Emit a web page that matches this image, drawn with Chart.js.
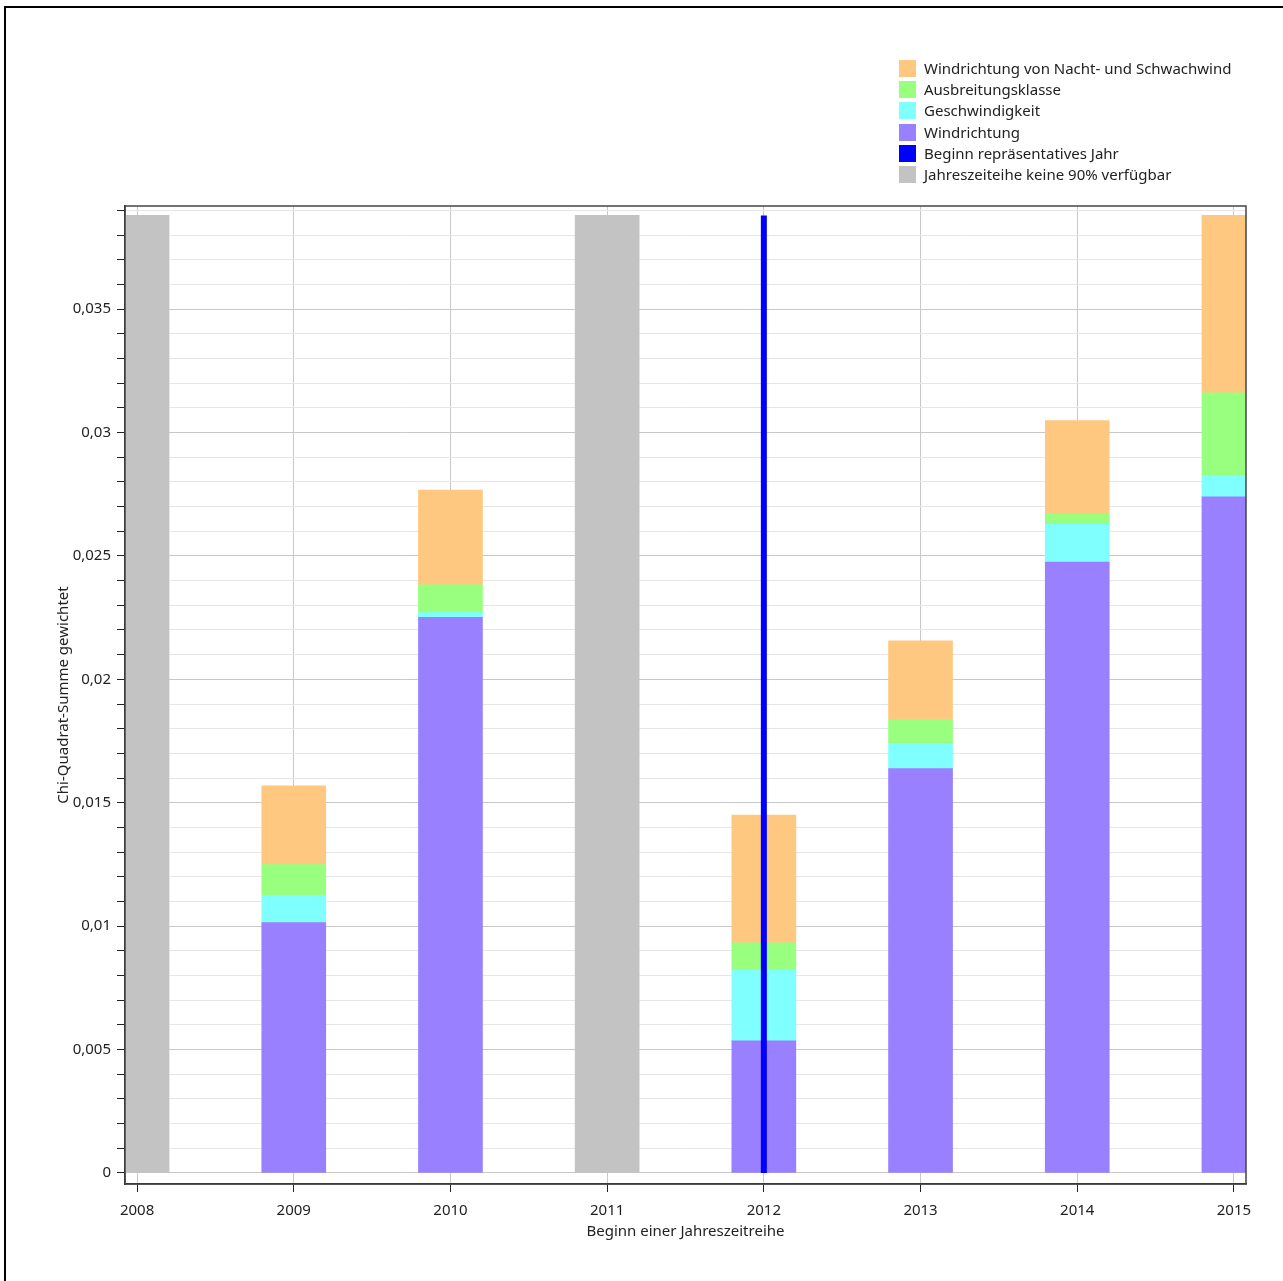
<!DOCTYPE html>
<html>
<head>
<meta charset="utf-8">
<script src="https://cdn.jsdelivr.net/npm/chart.js@4.4.0/dist/chart.umd.min.js"></script>
<style>
  body { margin: 0; background: #fff; }
  #wrap { position: relative; width: 1283px; height: 1281px; overflow: hidden; }
  #frame { position: absolute; left: 4px; top: 6px; width: 1400px; height: 1400px; border-left: 2px solid #000; border-top: 2px solid #000; }
  #legend { position: absolute; left: 899px; top: 58px; font-family: "Noto Sans", sans-serif; font-size: 15px; color: #222; }
  #legend div { height: 21.2px; line-height: 21px; white-space: nowrap; }
  #legend span { display: inline-block; width: 17px; height: 17px; vertical-align: -3px; margin-right: 8px; }
  canvas { position: absolute; left: 0; top: 0; }
</style>
</head>
<body>
<div id="wrap">
  <div id="frame"></div>
  <canvas id="chart1" width="1283" height="1281"></canvas>
  <div id="legend"></div>
</div>
<script>
// years with full data
var years = [2009, 2010, 2012, 2013, 2014, 2015];
// stacked parts, bottom to top
var windrichtung    = [0.01014, 0.02251, 0.00535, 0.01638, 0.02475, 0.02740];
var geschwindigkeit = [0.00111, 0.00019, 0.00287, 0.00103, 0.00154, 0.00086];
var ausbreitung     = [0.00124, 0.00113, 0.00110, 0.00097, 0.00041, 0.00335];
var nachtSchwach    = [0.00319, 0.00384, 0.00518, 0.00318, 0.00378, 0.00719];
// years without 90% available
var missingYears = [2008, 2011];
var missingHeight = 0.0388;
// representative year
var repYear = 2012;
var repHeight = 0.0388;

var xTicks = [2008, 2009, 2010, 2011, 2012, 2013, 2014, 2015];
var yTicks = [];
for (var i = 0; i <= 39; i++) yTicks.push(i / 1000);

var font = "'Noto Sans', sans-serif";

function pts(xs, ys) {
  return xs.map(function(x, i) { return {x: x, y: ys[i]}; });
}

var series = [
  {label: "Windrichtung", data: windrichtung, color: "#9980FF"},
  {label: "Geschwindigkeit", data: geschwindigkeit, color: "#80FFFF"},
  {label: "Ausbreitungsklasse", data: ausbreitung, color: "#99FF7F"},
  {label: "Windrichtung von Nacht- und Schwachwind", data: nachtSchwach, color: "#FFC880"}
];

var datasets = series.map(function(s) {
  return {type: 'bar', label: s.label, data: pts(years, s.data), backgroundColor: s.color, barThickness: 64};
});
datasets.push({
  type: 'bar', label: "Jahreszeiteihe keine 90% verfügbar",
  data: missingYears.map(function(x) { return {x: x, y: missingHeight}; }),
  backgroundColor: "#C3C3C3", barThickness: 64
});
datasets.push({
  type: 'line', label: "Beginn repräsentatives Jahr",
  data: [{x: repYear, y: 0}, {x: repYear, y: repHeight}],
  borderColor: "#0000FF", borderWidth: 6, pointRadius: 0, stack: 'rep', order: -1
});

// legend, top to bottom
var legendItems = [
  ["Windrichtung von Nacht- und Schwachwind", "#FFC880"],
  ["Ausbreitungsklasse", "#99FF7F"],
  ["Geschwindigkeit", "#80FFFF"],
  ["Windrichtung", "#9980FF"],
  ["Beginn repräsentatives Jahr", "#0000FF"],
  ["Jahreszeiteihe keine 90% verfügbar", "#C3C3C3"]
];
document.getElementById("legend").innerHTML = legendItems.map(function(it) {
  return '<div><span style="background:' + it[1] + '"></span>' + it[0] + '</div>';
}).join('');

// frame around plot area
var frame = {
  id: 'frame',
  afterDraw: function(chart) {
    var a = chart.chartArea, c = chart.ctx;
    c.save();
    c.strokeStyle = "#444";
    c.lineWidth = 1.5;
    c.strokeRect(a.left, a.top, a.right - a.left, a.bottom - a.top);
    c.restore();
  }
};

function isMajor(v) {
  return Math.abs(Math.round(v * 200) - v * 200) < 1e-6;
}

new Chart(document.getElementById("chart1"), {
  data: {datasets: datasets},
  plugins: [frame],
  options: {
    responsive: false,
    animation: false,
    layout: {padding: {left: 55, top: 206, right: 37, bottom: 37}},
    plugins: {legend: {display: false}, tooltip: {enabled: false}},
    scales: {
      x: {
        type: 'linear', stacked: true, offset: false,
        min: 2007.923, max: 2015.077,
        afterBuildTicks: function(s) { s.ticks = xTicks.map(function(v) { return {value: v}; }); },
        afterFit: function(s) { s.height = 60; },
        ticks: {callback: function(v) { return String(v); }, font: {family: font, size: 15}, color: "#222", padding: 10, maxRotation: 0},
        grid: {offset: false, color: "#c8c8c8", tickColor: "#222", tickLength: 8},
        border: {color: "#222", width: 1.5},
        title: {display: true, text: "Beginn einer Jahreszeitreihe", font: {family: font, size: 15}, color: "#222", padding: {top: 0, bottom: 3}}
      },
      y: {
        stacked: true,
        min: -0.00045, max: 0.03918,
        afterBuildTicks: function(s) { s.ticks = yTicks.map(function(v) { return {value: v}; }); },
        afterFit: function(s) { s.width = 70; },
        ticks: {
          callback: function(v) { return isMajor(v) ? String(+v.toFixed(3)).replace('.', ',') : ''; },
          font: {family: font, size: 15}, color: "#222", padding: 6, autoSkip: false
        },
        grid: {
          color: function(ctx) { return isMajor(ctx.tick.value) ? "#c8c8c8" : "#e6e6e6"; },
          tickColor: "#222", tickLength: 8
        },
        border: {color: "#222", width: 1.5},
        title: {display: true, text: "Chi-Quadrat-Summe gewichtet", font: {family: font, size: 15}, color: "#222", padding: {top: 0, bottom: 4}}
      }
    }
  }
});
</script>
</body>
</html>
